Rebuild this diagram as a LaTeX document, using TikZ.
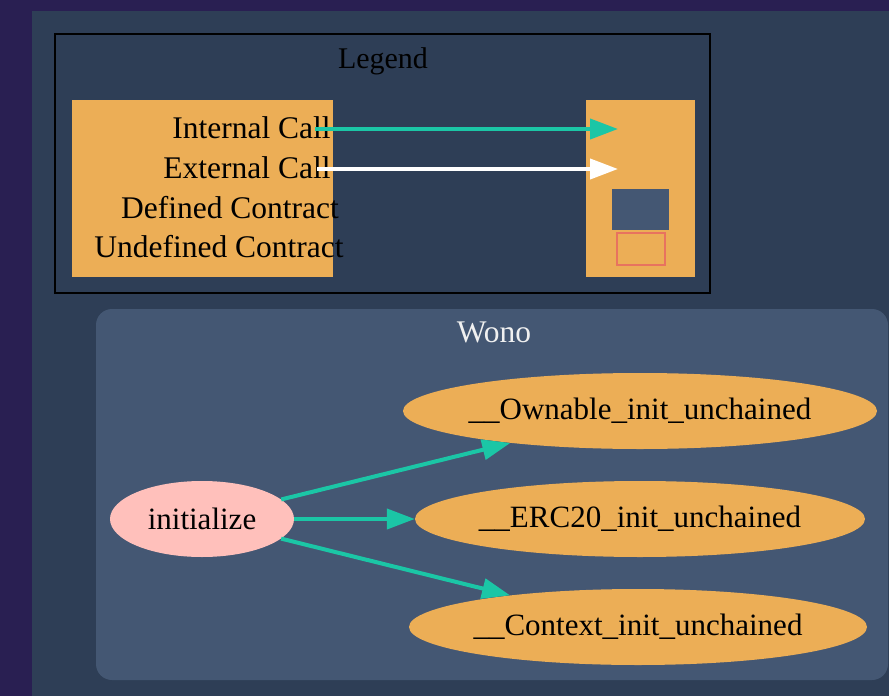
\documentclass[tikz,border=0pt]{standalone}
\usepackage{fontspec}
\setmainfont{Liberation Serif}
\usetikzlibrary{arrows.meta,shapes.geometric}

\definecolor{pagebg}{HTML}{291F52}
\definecolor{graphbg}{HTML}{2E3E56}
\definecolor{clusterbg}{HTML}{445773}
\definecolor{fnfill}{HTML}{ECAE56}
\definecolor{entryfill}{HTML}{FFC0BB}
\definecolor{callteal}{HTML}{1BC6A6}
\definecolor{undefred}{HTML}{E8735F}
\definecolor{titlewhite}{HTML}{F0F0F0}

% label text that does not widen its ellipse
\newcommand{\fnlabel}[1]{\makebox[0pt]{#1}}

\tikzset{
  fnnode/.style={ellipse, fill=fnfill, inner sep=0pt, minimum height=76pt,
    font=\fontsize{31}{34}\selectfont, text=black},
  entrynode/.style={fnnode, fill=entryfill},
  callarrow/.style={draw=callteal, line width=4pt,
    -{Triangle[length=28pt,width=20pt]}},
  extarrow/.style={callarrow, draw=white},
  legendrow/.style={anchor=base, inner sep=0pt,
    font=\fontsize{31.5}{34}\selectfont, text=black},
  titletext/.style={anchor=base, inner sep=0pt,
    font=\fontsize{30}{34}\selectfont}
}

\begin{document}
\begin{tikzpicture}[x=1pt,y=-1pt]
  % page and graph background
  \useasboundingbox (0,0) rectangle (889,696);
  \fill[pagebg] (0,0) rectangle (889,696);
  \fill[graphbg] (32,11) rectangle (889,696);

  % legend cluster
  \draw[black, line width=1.5pt] (55,34) rectangle (710,293);
  \node[titletext, text=black] (legendtitle) at (383,68) {Legend};
  \fill[fnfill] (72,100) rectangle (333,277);
  \fill[fnfill] (586,100) rectangle (695,277);
  \node[legendrow] (lint) at (251.5,138) {Internal Call};
  \node[legendrow] (lext) at (247,178) {External Call};
  \node[legendrow] (ldef) at (230,218) {Defined Contract};
  \node[legendrow] (lundef) at (219,257) {Undefined Contract};
  \coordinate (intfrom) at (315,129);
  \coordinate (intto) at (618,129);
  \coordinate (extfrom) at (317,169);
  \coordinate (extto) at (618,169);
  \draw[callarrow] (intfrom) -- (intto);
  \draw[extarrow] (extfrom) -- (extto);
  \node[fill=clusterbg, minimum width=57pt, minimum height=41pt, inner sep=0pt]
    (defbox) at (640.5,209.5) {};
  \node[draw=undefred, line width=2pt, minimum width=48pt, minimum height=32pt, inner sep=0pt]
    (undefbox) at (640.5,249) {};

  % contract cluster
  \fill[clusterbg, rounded corners=16pt] (96,309) rectangle (888,680);
  \node[titletext, text=titlewhite, font=\fontsize{31.5}{34}\selectfont] (wono) at (494,342) {Wono};

  % function nodes
  \node[entrynode, minimum width=184pt] (init) at (202,519) {\fnlabel{initialize}};
  \node[fnnode, minimum width=474pt] (own) at (640,411) {\fnlabel{\_\_Ownable\_init\_unchained}};
  \node[fnnode, minimum width=450pt] (erc) at (640,519) {\fnlabel{\_\_ERC20\_init\_unchained}};
  \node[fnnode, minimum width=458pt] (ctx) at (638,627) {\fnlabel{\_\_Context\_init\_unchained}};

  % internal calls
  \draw[callarrow] (init) -- (own);
  \draw[callarrow] (init) -- (erc);
  \draw[callarrow] (init) -- (ctx);
\end{tikzpicture}
\end{document}
